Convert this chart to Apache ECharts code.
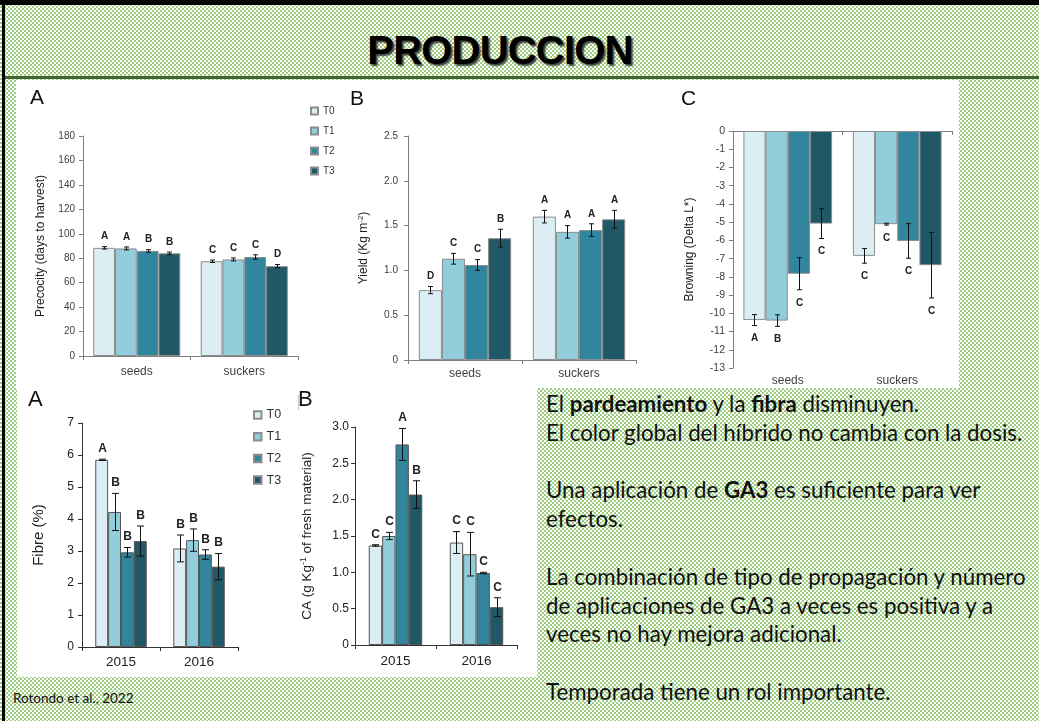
<!DOCTYPE html>
<html>
<head>
<meta charset="utf-8">
<title>PRODUCCION</title>
<script src="https://cdn.jsdelivr.net/npm/echarts@6/dist/echarts.min.js"></script>
<style>
  html, body { margin: 0; padding: 0; width: 1039px; height: 721px; overflow: hidden; }
  #slide {
    position: relative; width: 1039px; height: 721px;
    background-color: #ffffff;
    background-image: conic-gradient(#9dcd7e 25%, #ffffff 0 50%, #9dcd7e 0 75%, #ffffff 0);
    background-size: 4px 4px;
  }
  .block { position: absolute; }
  .panel { position: absolute; background: #ffffff; }
  #title {
    position: absolute; left: 300px; top: 30px; width: 400px; text-align: center;
    font-family: "Liberation Sans", Arial, sans-serif; font-weight: bold; font-size: 40px; line-height: 40px;
    letter-spacing: -0.8px; color: #000;
    text-shadow: 2px 2px 1.5px rgba(50,50,50,0.9);
  }
  #notes {
    position: absolute; left: 546px; top: 390px; white-space: nowrap;
    font-family: Lato, "Open Sans", sans-serif; font-size: 22.3px; line-height: 28.8px; color: #111;
  }
  #cite {
    position: absolute; left: 13px; top: 690px; white-space: nowrap;
    font-family: Lato, "Open Sans", sans-serif; font-size: 13.5px; line-height: 16px; color: #111;
  }
  #chart { position: absolute; left: 0; top: 0; width: 1039px; height: 721px; }
</style>
</head>
<body>
<div id="slide">
  <div class="block" style="left:0;top:0;width:1039px;height:5px;background:#000"></div>
  <div class="block" style="left:2px;top:0;width:3px;height:721px;background:#000"></div>
  <div class="block" style="left:5px;top:76px;width:1034px;height:3px;background:#3d6630"></div>
  <div class="panel" style="left:16px;top:80px;width:943px;height:308px"></div>
  <div class="panel" style="left:17px;top:388px;width:520px;height:289px"></div>
  <div class="block" style="left:298px;top:395px;width:1px;height:15px;background:#c8c8c8"></div>
  <div id="title">PRODUCCION</div>
  <div id="notes">El <b>pardeamiento</b> y la <b>fibra</b> disminuyen.<br>El color global del híbrido no cambia con la dosis.<br><br>Una aplicación de <b>GA3</b> es suficiente para ver<br>efectos.<br><br>La combinación de tipo de propagación y número<br>de aplicaciones de GA3 a veces es positiva y a<br>veces no hay mejora adicional.<br><br>Temporada tiene un rol importante.</div>
  <div id="cite">Rotondo et al., 2022</div>
  <div id="chart"></div>
</div>
<script>
// ---- categories ----
const treatments = ['T0', 'T1', 'T2', 'T3'];
const propagation = ['seeds', 'suckers'];
const seasons = ['2015', '2016'];
const treatmentColors = ['#dbeef4', '#92cddc', '#31859c', '#215868'];

// ---- values: [treatment][category] ----
const precocityMean = [[88.5, 77.5], [88, 79], [86, 81], [84, 73.5]];
const precocityErr = [[1, 1], [1.2, 1.2], [1, 1.8], [1, 1.3]];
const precocityLetters = [['A', 'C'], ['A', 'C'], ['B', 'C'], ['B', 'D']];

const yieldMean = [[0.78, 1.60], [1.13, 1.43], [1.06, 1.45], [1.36, 1.57]];
const yieldErr = [[0.04, 0.07], [0.06, 0.07], [0.06, 0.07], [0.10, 0.10]];
const yieldLetters = [['D', 'A'], ['C', 'A'], ['C', 'A'], ['B', 'A']];

const browningMean = [[-10.37, -6.85], [-10.4, -5.11], [-7.83, -6.03], [-5.08, -7.36]];
const browningErr = [[0.3, 0.4], [0.32, 0.05], [0.88, 0.95], [0.82, 1.8]];
const browningLetters = [['A', 'C'], ['B', 'C'], ['C', 'C'], ['C', 'C']];

const fibreMean = [[5.85, 3.08], [4.22, 3.34], [2.96, 2.89], [3.31, 2.51]];
const fibreErr = [[0.02, 0.42], [0.58, 0.35], [0.15, 0.15], [0.47, 0.41]];
const fibreLetters = [['A', 'B'], ['B', 'B'], ['B', 'B'], ['B', 'B']];

const caMean = [[1.37, 1.41], [1.50, 1.25], [2.76, 0.99], [2.07, 0.52]];
const caErr = [[0.01, 0.15], [0.05, 0.30], [0.22, 0.01], [0.19, 0.13]];
const caLetters = [['C', 'C'], ['C', 'C'], ['A', 'C'], ['B', 'C']];

// ---- y-axis ticks ----
const precocityTicks = [0, 20, 40, 60, 80, 100, 120, 140, 160, 180];
const yieldTicks = [0, 0.5, 1.0, 1.5, 2.0, 2.5];
const browningTicks = [-13, -12, -11, -10, -9, -8, -7, -6, -5, -4, -3, -2, -1, 0];
const fibreTicks = [0, 1, 2, 3, 4, 5, 6, 7];
const caTicks = [0, 0.5, 1.0, 1.5, 2.0, 2.5, 3.0];

const FONT = '"Liberation Sans", Arial, sans-serif';

const topStyle = {
  tickFont: 10, catFont: 12, letterFont: 10, nameFont: 12,
  axisColor: '#7f7f7f', labelColor: '#404040', border: '#8c8c8c',
  catGap: '19%', cap: 2.5, letterGapUp: 5, letterGapDown: 8
};
const bottomStyle = {
  tickFont: 12, catFont: 13.5, letterFont: 12, nameFont: 15,
  axisColor: '#333333', labelColor: '#222222', border: '#555555',
  catGap: '34%', cap: 3.5, letterGapUp: 4.5, letterGapDown: 8
};

const oneDecimal = v => (v === 0 ? '0' : v.toFixed(1));

const panels = [
  { grid: { left: 83, top: 136, width: 215, height: 220 }, cats: propagation,
    mean: precocityMean, err: precocityErr, letters: precocityLetters, ticks: precocityTicks,
    name: 'Precocity (days to harvest)', nameGap: 36, labelMargin: 8, catMargin: 10,
    style: topStyle, fmt: v => String(v) },
  { grid: { left: 408, top: 136, width: 228, height: 224 }, cats: propagation,
    mean: yieldMean, err: yieldErr, letters: yieldLetters, ticks: yieldTicks,
    name: '{n|Yield (Kg m}{s|-2}{n|)}', nameGap: 37, labelMargin: 10, catMargin: 8,
    style: topStyle, fmt: oneDecimal },
  { grid: { left: 733, top: 131, width: 219, height: 237 }, cats: propagation,
    mean: browningMean, err: browningErr, letters: browningLetters, ticks: browningTicks,
    name: 'Browning (Delta L*)', nameGap: 37, labelMargin: 8, catMargin: 6,
    style: Object.assign({}, topStyle, { tickFont: 10.5 }), fmt: v => String(v), zeroAxis: true },
  { grid: { left: 82, top: 423, width: 156, height: 224 }, cats: seasons,
    mean: fibreMean, err: fibreErr, letters: fibreLetters, ticks: fibreTicks,
    name: 'Fibre (%)', nameGap: 36, labelMargin: 8, catMargin: 8,
    style: bottomStyle, fmt: v => String(v) },
  { grid: { left: 355, top: 427, width: 162, height: 218 }, cats: seasons,
    mean: caMean, err: caErr, letters: caLetters, ticks: caTicks,
    name: '{n|CA (g Kg}{s|-1}{n| of fresh material)}', nameGap: 40, labelMargin: 6, catMargin: 9,
    style: Object.assign({}, bottomStyle, { nameFont: 13.5 }), fmt: oneDecimal }
];

const grids = [], xAxes = [], yAxes = [], series = [];

panels.forEach((p, gi) => {
  const st = p.style;
  grids.push(Object.assign({ containLabel: false }, p.grid));

  xAxes.push({
    type: 'category', gridIndex: gi, data: p.cats, position: 'bottom',
    axisLine: { show: true, onZero: !!p.zeroAxis, lineStyle: { color: st.axisColor, width: 1 } },
    axisTick: { show: true, length: 4, lineStyle: { color: st.axisColor } },
    axisLabel: { show: !p.zeroAxis, fontSize: st.catFont, color: st.labelColor, margin: p.catMargin, fontFamily: FONT },
    splitLine: { show: false }
  });

  const ticks = p.ticks;
  yAxes.push({
    type: 'value', gridIndex: gi,
    min: ticks[0], max: ticks[ticks.length - 1], interval: ticks[1] - ticks[0],
    axisLine: { show: true, lineStyle: { color: st.axisColor, width: 1 } },
    axisTick: { show: true, length: 4, lineStyle: { color: st.axisColor } },
    axisLabel: { fontSize: st.tickFont, color: st.labelColor, margin: p.labelMargin, fontFamily: FONT, formatter: p.fmt },
    splitLine: { show: false },
    name: p.name, nameLocation: 'middle', nameRotate: 90, nameGap: p.nameGap,
    nameTextStyle: {
      fontSize: st.nameFont, color: '#222', fontFamily: FONT,
      rich: {
        n: { fontSize: st.nameFont, color: '#222', fontFamily: FONT, lineHeight: st.nameFont + 2 },
        s: { fontSize: st.nameFont * 0.65, color: '#222', fontFamily: FONT, verticalAlign: 'top', lineHeight: st.nameFont * 0.7 }
      }
    }
  });

  treatments.forEach((tName, t) => {
    series.push({
      type: 'bar', name: tName, xAxisIndex: gi, yAxisIndex: gi,
      data: p.mean[t], barGap: '0%', barCategoryGap: st.catGap,
      itemStyle: { color: treatmentColors[t], borderColor: st.border, borderWidth: 1 },
      silent: true, animation: false
    });
  });

  // error bars and significance letters
  const items = [], letters = [];
  p.mean.forEach((row, t) => row.forEach((m, c) => {
    items.push([c, m, p.err[t][c], t]);
    letters.push(p.letters[t][c]);
  }));
  const gapFrac = parseFloat(st.catGap) / 100;
  series.push({
    type: 'custom', name: 'err' + gi, xAxisIndex: gi, yAxisIndex: gi, z: 5, silent: true, animation: false,
    encode: { x: 0, y: 1 },
    data: items,
    renderItem: function (params, api) {
      const c = api.value(0), m = api.value(1), e = api.value(2), t = api.value(3);
      const band = api.size([1, 0])[0];
      const group = band * (1 - gapFrac);
      const barW = group / treatments.length;
      const base = api.coord([c, m]);
      const x = Math.round(base[0] - group / 2 + barW * (t + 0.5)) + 0.5;
      const yTop = api.coord([c, m + e])[1];
      const yBot = api.coord([c, m - e])[1];
      const ls = { stroke: '#111', lineWidth: 1 };
      const down = m < 0;
      return {
        type: 'group',
        children: [
          { type: 'line', shape: { x1: x, y1: yTop, x2: x, y2: yBot }, style: ls },
          { type: 'line', shape: { x1: x - st.cap, y1: yTop, x2: x + st.cap, y2: yTop }, style: ls },
          { type: 'line', shape: { x1: x - st.cap, y1: yBot, x2: x + st.cap, y2: yBot }, style: ls },
          { type: 'text', x: x, y: down ? yBot + st.letterGapDown : yTop - st.letterGapUp,
            style: { text: letters[params.dataIndex], fontSize: st.letterFont, fontWeight: 'bold',
                     fontFamily: FONT, fill: '#222', align: 'center', verticalAlign: down ? 'top' : 'bottom' } }
        ]
      };
    }
  });
});

// category labels for the browning chart sit below the plot while its axis line stays at zero
xAxes.push({
  type: 'category', gridIndex: 2, data: propagation, position: 'bottom',
  axisLine: { show: false, onZero: false }, axisTick: { show: false },
  axisLabel: { fontSize: 12, color: '#404040', margin: 7, fontFamily: FONT },
  splitLine: { show: false }
});

const panelLetters = [
  { text: 'A', left: 30, top: 88, size: 21 },
  { text: 'B', left: 350, top: 89, size: 21 },
  { text: 'C', left: 681, top: 89, size: 21 },
  { text: 'A', left: 28, top: 389, size: 22 },
  { text: 'B', left: 298, top: 389, size: 22 }
];

const chart = echarts.init(document.getElementById('chart'), null, { renderer: 'canvas' });
chart.setOption({
  backgroundColor: 'transparent',
  animation: false,
  textStyle: { fontFamily: FONT },
  grid: grids,
  xAxis: xAxes,
  yAxis: yAxes,
  series: series,
  legend: [
    { data: treatments, orient: 'vertical', left: 310, top: 105, itemWidth: 7, itemHeight: 7, itemGap: 8,
      icon: 'rect', selectedMode: false, padding: 0,
      textStyle: { fontSize: 10, color: '#333', lineHeight: 12, fontFamily: FONT } },
    { data: treatments, orient: 'vertical', left: 253, top: 408, itemWidth: 7.5, itemHeight: 7.5, itemGap: 7.7,
      icon: 'rect', selectedMode: false, padding: 0,
      textStyle: { fontSize: 12.5, color: '#333', lineHeight: 14, fontFamily: FONT } }
  ],
  graphic: panelLetters.map(l => ({
    type: 'text', left: l.left, top: l.top, silent: true,
    style: { text: l.text, fontSize: l.size, fontFamily: FONT, fill: '#111' }
  }))
});
</script>
</body>
</html>
